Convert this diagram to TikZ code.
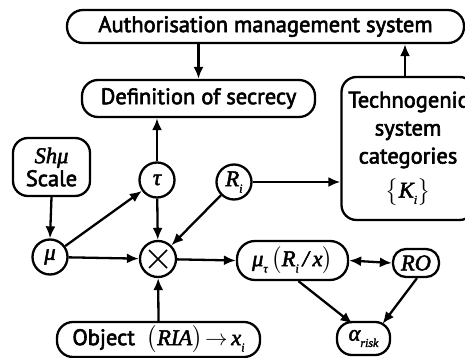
\documentclass[tikz,border=0pt]{standalone}
\usepackage{mathptmx}
\usepackage[no-math]{fontspec}
\setmainfont{PT Sans}[FakeBold=2.6]
\newfontfamily\mi{Liberation Serif}[FakeBold=2.2]
\newcommand\mv[1]{{\mi\itshape #1}}
\newcommand\sbx[1]{\raisebox{-0.28em}{\fontsize{12}{12}\selectfont\mi\itshape #1}}
\usetikzlibrary{arrows.meta,calc}
\tikzset{
  base/.style={draw,line width=2.3pt,inner sep=0pt,align=center,font=\fontsize{22.5}{28}\selectfont},
  pill/.style={base,rectangle,rounded corners=16pt},
  rbox/.style={base,rectangle,rounded corners=15pt},
  circ/.style={base,circle,minimum size=35pt},
  arr/.style={line width=2.3pt,-{Latex[length=12pt,width=10pt]}},
  darr/.style={line width=2.3pt,{Latex[length=12pt,width=10pt]}-{Latex[length=12pt,width=10pt]}}
}
\begin{document}
\begin{tikzpicture}[x=1pt,y=-1pt]
\useasboundingbox (0,0) rectangle (465,358);
\node[pill,minimum width=397pt,minimum height=33pt] (top) at (265.5,26.5) {Authorisation management system};
\node[pill,minimum width=233pt,minimum height=37pt] (def) at (198.5,98.5) {Definition of secrecy};
\node[rbox,minimum width=133pt,minimum height=143pt,text width=133pt] (techno) at (408,148.5) {Technogenic\\system\\categories\\[6pt]$\bigl\{$\mv{K}\sbx{i}$\bigr\}$};
\node[rbox,minimum width=77pt,minimum height=58pt,text width=77pt,font=\fontsize{22.5}{23}\selectfont] (shmu) at (51.5,167) {\mv{Shμ}\\Scale};
\node[circ] (mu) at (50,257) {\mv{μ}};
\node[circ] (tau) at (157,180) {\mv{τ}};
\node[circ] (ri) at (234,182) {\mv{R}\sbx{i}};
\node[circ,minimum size=36pt] (ot) at (158,259) {};
\draw[line width=1.7pt] ($(ot)+(-9,-9)$) -- ($(ot)+(9,9)$) ($(ot)+(-9,9)$) -- ($(ot)+(9,-9)$);
\node[pill,minimum width=111pt,minimum height=39pt,rounded corners=18pt] (mt) at (292.5,260.5) {\mv{μ}\sbx{τ}\,$\bigl($\mv{R}\sbx{i}\,\mv{/}\,\mv{x}$\bigr)$};
\node[pill,minimum width=46pt,minimum height=28pt,rounded corners=13pt] (ro) at (416,263) {\mv{RO}};
\node[pill,minimum width=53pt,minimum height=33pt,rounded corners=15pt] (al) at (363.5,338.5) {\mv{α}\sbx{risk}};
\node[pill,minimum width=203pt,minimum height=35pt] (obj) at (158.5,339.5) {Object\ \ $\bigl($\mv{RIA}$\bigr)\!\to$\,\mv{x}\sbx{i}};
\draw[arr] (def.north |- top.south) -- (def.north);
\draw[arr] (techno.north -| 405,0) -- (top.south -| 405,0);
\draw[arr] (tau.north) -- (tau.north |- def.south);
\draw[arr] (ri.east) -- (ri.east -| techno.west);
\draw[arr] (shmu.south) -- (mu.north);
\draw[arr] (mu) -- (tau);
\draw[arr] (tau) -- (ot);
\draw[arr] (ri) -- (ot);
\draw[arr] (mu) -- (ot);
\draw[arr] (obj.north) -- (ot);
\draw[arr] (ot) -- (mt.west);
\draw[darr] (mt.east) -- (ro.west);
\draw[arr] ([xshift=6pt]mt.south) -- ([xshift=-11pt,yshift=-3pt]al.north);
\draw[arr] ([xshift=1pt]ro.south) -- ([xshift=19pt,yshift=-3pt]al.north);
\end{tikzpicture}
\end{document}
